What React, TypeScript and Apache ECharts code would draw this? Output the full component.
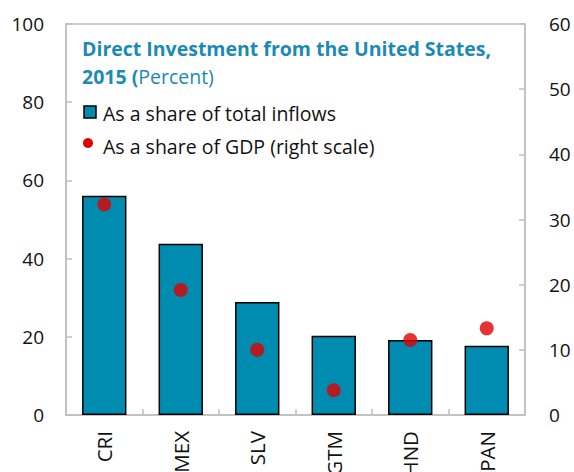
import React, { useEffect, useRef } from "react";
import * as echarts from "echarts";

const categories = ["CRI", "MEX", "SLV", "GTM", "HND", "PAN"];
const shareOfInflows = [56.1, 43.8, 28.9, 20.3, 19.2, 17.7];
const shareOfGDP = [32.3, 19.2, 10.0, 3.8, 11.5, 13.3];
const leftTicks = [0, 20, 40, 60, 80, 100];
const rightTicks = [0, 10, 20, 30, 40, 50, 60];
const legendNames = ["As a share of total inflows", "As a share of GDP (right scale)"];

const FONT = "'Open Sans', 'Noto Sans', sans-serif";
const AXIS_GREY = "#BFBFBF";
const BAR_BLUE = "#008CB0";
const DOT_RED = "#E00000";

export default function App() {
  const ref = useRef<HTMLDivElement>(null);
  useEffect(() => {
    if (!ref.current) return;
    const chart = echarts.init(ref.current, null, { renderer: "svg" });
    chart.setOption({
      animation: false,
      textStyle: { fontFamily: FONT },
      title: {
        left: 77,
        top: 29,
        text: "{b|Direct Investment from the United States,}\n{b|2015 (}{n|Percent)}",
        textStyle: {
          rich: {
            b: { fontFamily: FONT, fontWeight: "bold", fontSize: 19.5, color: "#1B8AB5", lineHeight: 28 },
            n: { fontFamily: FONT, fontWeight: "normal", fontSize: 19.5, color: "#1B8AB5", lineHeight: 28 },
          },
        },
      },
      graphic: [
        {
          type: "rect",
          shape: { x: 84, y: 106, width: 12, height: 12 },
          style: { fill: BAR_BLUE, stroke: "#000", lineWidth: 1.5 },
        },
        {
          type: "text",
          x: 103,
          y: 113,
          style: { text: legendNames[0], font: `19.5px ${FONT}`, fill: "#111", verticalAlign: "middle", align: "left" },
        },
        {
          type: "circle",
          shape: { cx: 88, cy: 143, r: 5 },
          style: { fill: DOT_RED },
        },
        {
          type: "text",
          x: 103,
          y: 146,
          style: { text: legendNames[1], font: `19.5px ${FONT}`, fill: "#111", verticalAlign: "middle", align: "left" },
        },
      ],
      grid: {
        left: 66,
        right: 49,
        top: 24,
        bottom: 57,
        show: true,
        borderColor: AXIS_GREY,
        borderWidth: 1.5,
        containLabel: false,
        outerBoundsMode: "none",
      },
      xAxis: {
        type: "category",
        data: categories,
        boundaryGap: true,
        axisLine: { show: true, lineStyle: { color: AXIS_GREY, width: 1.5 } },
        axisTick: { show: true, inside: true, length: 6, lineStyle: { color: AXIS_GREY, width: 1.5 } },
        axisLabel: {
          rotate: 90,
          margin: 16,
          fontSize: 20.5,
          color: "#111",
          fontFamily: FONT,
        },
      },
      yAxis: [
        {
          type: "value",
          min: leftTicks[0],
          max: leftTicks[leftTicks.length - 1],
          interval: 20,
          splitLine: { show: false },
          axisLine: { show: true, lineStyle: { color: AXIS_GREY, width: 1.5 } },
          axisTick: { show: true, inside: true, length: 6, lineStyle: { color: AXIS_GREY, width: 1.5 } },
          axisLabel: { margin: 22, fontSize: 19, color: "#111", fontFamily: FONT },
        },
        {
          type: "value",
          position: "right",
          min: rightTicks[0],
          max: rightTicks[rightTicks.length - 1],
          interval: 10,
          splitLine: { show: false },
          axisLine: { show: true, lineStyle: { color: AXIS_GREY, width: 1.5 } },
          axisTick: { show: true, inside: true, length: 6, lineStyle: { color: AXIS_GREY, width: 1.5 } },
          axisLabel: { margin: 24, fontSize: 19, color: "#111", fontFamily: FONT },
        },
      ],
      series: [
        {
          name: legendNames[0],
          type: "bar",
          yAxisIndex: 0,
          data: shareOfInflows,
          barWidth: "58%",
          itemStyle: { color: BAR_BLUE, borderColor: "#000", borderWidth: 1.5 },
        },
        {
          name: legendNames[1],
          type: "scatter",
          yAxisIndex: 1,
          data: shareOfGDP,
          symbol: "circle",
          symbolSize: 14,
          itemStyle: { color: DOT_RED },
          z: 5,
        },
      ],
    });
    return () => chart.dispose();
  }, []);
  return (
    <div
      ref={ref}
      style={{ position: "absolute", left: 0, top: 0, width: 574, height: 472 }}
    />
  );
}
